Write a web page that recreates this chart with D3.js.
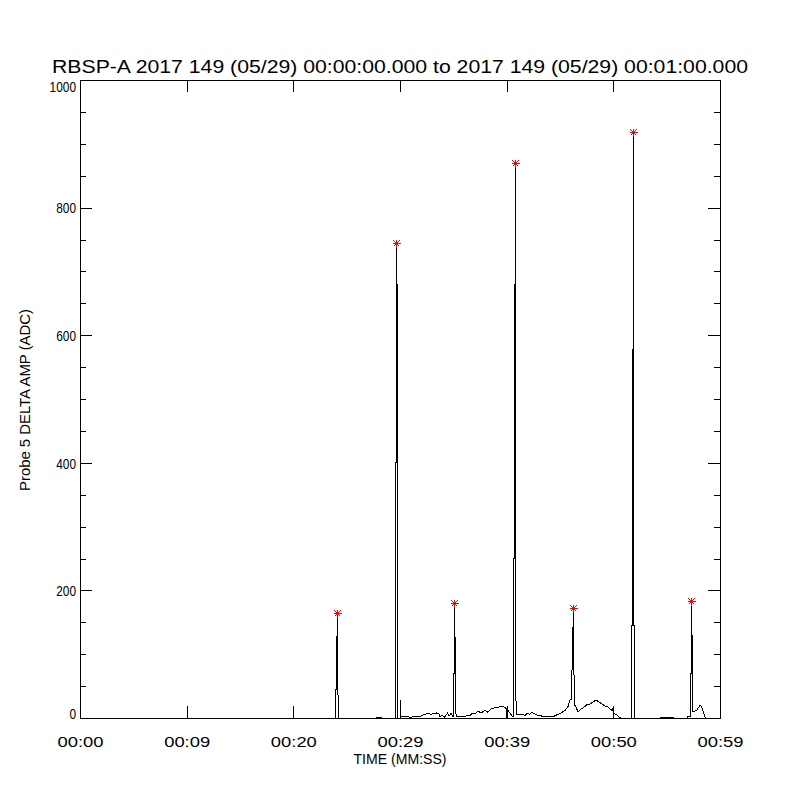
<!DOCTYPE html>
<html>
<head>
<meta charset="utf-8">
<script src="https://cdn.jsdelivr.net/npm/d3@7"></script>
<style>
  body { margin: 0; background: #fff; }
  text { font-family: "Liberation Sans", Arial, sans-serif; fill: #000; }
</style>
</head>
<body>
<div id="chart"></div>
<script>
// time in seconds from 00:00:00, probe 5 delta amp in ADC
var times = [0, 23.9, 23.95, 23.95, 24.05, 24.05, 24.14, 24.14, 24.14, 24.23, 24.23,
  27.75, 27.8, 28.25, 28.3,
  29.55, 29.58, 29.58, 29.67, 29.67, 29.67, 29.77, 29.77,
  30.02, 30.04, 30.06, 30.84, 30.9, 31.2, 31.9,
  32.16, 32.34, 32.63, 32.91, 33.19, 33.47, 33.66, 33.75, 33.94, 34.13, 34.31, 34.45, 34.59, 34.78, 34.92,
  35.02, 35.02, 35.11, 35.11, 35.11, 35.2, 35.2, 35.3,
  35.44, 36.09, 36.56, 36.84, 37.03, 37.31, 37.59, 37.78, 37.97, 38.25, 38.44, 38.63, 38.91, 39.19, 39.56, 39.84, 39.98,
  40.0, 40.1, 40.3, 40.5,
  40.64, 40.64, 40.73, 40.73, 40.83, 40.83, 40.83, 40.92,
  40.97, 41.44, 41.72, 41.91, 42.19, 42.38, 42.66, 42.94, 43.31, 43.88, 44.34, 44.72, 45.09, 45.47, 45.75, 45.94,
  46.08, 46.08, 46.17, 46.27, 46.27, 46.36,
  46.41, 46.69, 46.97, 47.25, 47.53, 47.81, 48.09, 48.38, 48.66, 48.94, 49.22, 49.5, 49.78, 49.95, 49.98, 50.0, 50.03, 50.3, 50.5, 50.7,
  51.7, 51.7, 51.8, 51.8, 51.89, 51.89, 51.89, 51.98, 51.98,
  54.45, 54.47, 55.59, 55.62,
  56.9, 56.95, 57.23, 57.23, 57.33, 57.33, 57.33, 57.42, 57.42,
  57.5, 57.8, 57.97, 58.13, 58.3, 58.41, 58.59, 58.69];
var amps = [0, 0, 0, 45, 45, 128, 128, 165, 45, 28, 0,
  0, 1.5, 1.5, 0,
  0, 0, 400, 400, 745, 680, 680, 0,
  0, 28, 2, 2, 0, 2, 2,
  5, 6, 7, 6, 7, 8, 6, 2, 5, 1, 4, 8, 3, 7, 3,
  3, 70, 70, 180, 126, 126, 10, 3,
  3, 3, 4, 8, 6, 11, 8, 10, 12, 9, 13, 15, 16, 17, 18, 17, 14,
  0, 12, 8, 3,
  3, 250, 250, 680, 680, 870, 49, 6,
  6, 6, 4, 7, 6, 9, 6, 4, 3, 2, 2, 5, 8, 12, 18, 28,
  30, 36, 113, 172, 113, 20,
  20, 10, 14, 17, 21, 22, 25, 28, 25, 22, 19, 17, 13, 11, 19, 0, 8, 5, 2, 0,
  0, 145, 145, 577, 577, 918, 145, 145, 0,
  0, 1.5, 1.5, 0,
  0, 2, 2, 70, 70, 183, 130, 130, 10,
  10, 12, 16, 20, 17, 11, 2, 0];

// peaks marked with red asterisks
var peakTimes = [24.14, 29.67, 35.11, 40.83, 46.27, 51.89, 57.33];
var peakAmps = [165, 745, 180, 870, 172, 918, 183];

var xTicks = [0, 10, 20, 30, 40, 50, 60];
var xTickLabels = ["00:00", "00:09", "00:20", "00:29", "00:39", "00:50", "00:59"];
var yTicks = [0, 200, 400, 600, 800, 1000];
var yMinorTicks = [50, 100, 150, 250, 300, 350, 450, 500, 550, 650, 700, 750, 850, 900, 950];

var titleText = "RBSP-A 2017 149 (05/29) 00:00:00.000 to 2017 149 (05/29) 00:01:00.000";

var width = 800, height = 800;
var plotLeft = 80, plotRight = 720, plotTop = 80, plotBottom = 718;

var svg = d3.select("#chart").append("svg")
  .attr("width", width)
  .attr("height", height);

svg.append("rect").attr("width", width).attr("height", height).attr("fill", "#fff");

var x = d3.scaleLinear().domain([0, 60]).range([plotLeft, plotRight]);
var y = d3.scaleLinear().domain([0, 1000]).range([plotBottom, plotTop]);

// frame
svg.append("rect")
  .attr("x", plotLeft + 0.5).attr("y", plotTop + 0.5)
  .attr("width", plotRight - plotLeft).attr("height", plotBottom - plotTop)
  .attr("fill", "none").attr("stroke", "#000")
  .attr("shape-rendering", "crispEdges");

function styleAxis(g) {
  g.select(".domain").remove();
  g.selectAll("line").attr("stroke", "#000").attr("shape-rendering", "crispEdges");
}

// bottom axis with labels
var xAxis = svg.append("g")
  .attr("transform", "translate(0," + plotBottom + ")")
  .call(d3.axisBottom(x).tickValues(xTicks).tickSizeInner(-12).tickSizeOuter(0).tickPadding(18)
    .tickFormat(function(d, i) { return xTickLabels[i]; }))
  .call(styleAxis);
xAxis.selectAll("text")
  .attr("font-size", 15)
  .attr("textLength", 46)
  .attr("lengthAdjust", "spacingAndGlyphs");

svg.append("g")
  .attr("transform", "translate(0," + plotTop + ")")
  .call(d3.axisTop(x).tickValues(xTicks.slice(1, -1)).tickSizeInner(-12).tickSizeOuter(0).tickFormat(""))
  .call(styleAxis);

// left axis, majors with labels and minors
var yAxis = svg.append("g")
  .attr("transform", "translate(" + plotLeft + ",0)")
  .call(d3.axisLeft(y).tickValues(yTicks).tickSizeInner(-12).tickSizeOuter(0).tickPadding(4)
    .tickFormat(d3.format("d")))
  .call(styleAxis);
yAxis.selectAll("text")
  .attr("font-size", 15)
  .attr("dy", function(d) { return d === 0 ? "0.0em" : d === 1000 ? "0.75em" : "0.35em"; })
  .attr("textLength", function(d) { return String(d).length * 6.6; })
  .attr("lengthAdjust", "spacingAndGlyphs");

svg.append("g")
  .attr("transform", "translate(" + plotLeft + ",0)")
  .call(d3.axisLeft(y).tickValues(yMinorTicks).tickSizeInner(-6).tickSizeOuter(0).tickFormat(""))
  .call(styleAxis);

svg.append("g")
  .attr("transform", "translate(" + plotRight + ",0)")
  .call(d3.axisRight(y).tickValues(yTicks.slice(1, -1)).tickSizeInner(-12).tickSizeOuter(0).tickFormat(""))
  .call(styleAxis);

svg.append("g")
  .attr("transform", "translate(" + plotRight + ",0)")
  .call(d3.axisRight(y).tickValues(yMinorTicks).tickSizeInner(-6).tickSizeOuter(0).tickFormat(""))
  .call(styleAxis);

// data line
var line = d3.line()
  .x(function(d, i) { return x(times[i]); })
  .y(function(d) { return y(d); });

svg.append("path")
  .datum(amps)
  .attr("d", line)
  .attr("fill", "none")
  .attr("stroke", "#000")
  .attr("stroke-width", 1)
  .attr("shape-rendering", "crispEdges");

// red asterisks at peaks
var stars = svg.selectAll(".star")
  .data(peakAmps)
  .enter().append("g")
  .attr("class", "star")
  .attr("transform", function(d, i) { return "translate(" + (Math.floor(x(peakTimes[i])) + 0.5) + "," + (Math.round(y(d)) + 0.5) + ")"; });
var s = 4, sd = 3;
[[-s, 0, s, 0], [0, -s, 0, s], [-sd, -sd, sd, sd], [-sd, sd, sd, -sd]].forEach(function(c) {
  stars.append("line")
    .attr("x1", c[0]).attr("y1", c[1]).attr("x2", c[2]).attr("y2", c[3])
    .attr("stroke", "#ff0000").attr("stroke-width", 1)
    .attr("shape-rendering", "crispEdges");
});

// title and axis titles
svg.append("text")
  .attr("x", 400).attr("y", 73)
  .attr("text-anchor", "middle")
  .attr("font-size", 18)
  .attr("textLength", 696)
  .attr("lengthAdjust", "spacingAndGlyphs")
  .text(titleText);

svg.append("text")
  .attr("x", 400).attr("y", 764)
  .attr("text-anchor", "middle")
  .attr("font-size", 14)
  .attr("textLength", 93)
  .attr("lengthAdjust", "spacingAndGlyphs")
  .text("TIME (MM:SS)");

svg.append("text")
  .attr("transform", "translate(30,400) rotate(-90)")
  .attr("text-anchor", "middle")
  .attr("font-size", 14)
  .attr("textLength", 182)
  .attr("lengthAdjust", "spacingAndGlyphs")
  .text("Probe 5 DELTA AMP (ADC)");
</script>
</body>
</html>
